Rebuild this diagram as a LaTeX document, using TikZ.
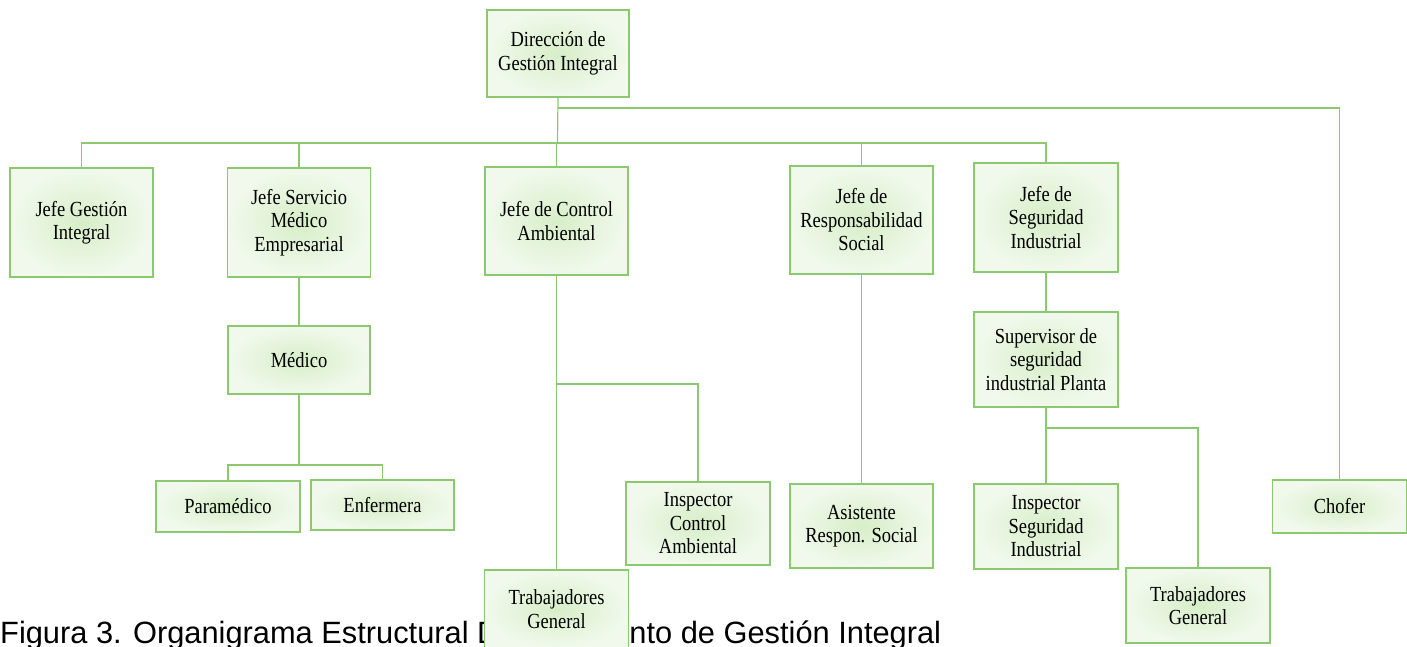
\documentclass[tikz,border=0pt]{standalone}
\usepackage{fontspec}
\setmainfont{Liberation Serif}
\newfontfamily\boxfont[FakeStretch=0.86]{Liberation Serif}
\newfontfamily\capfont{Liberation Sans}
\usetikzlibrary{positioning}
\definecolor{lng}{HTML}{8CC870}
\definecolor{boxin}{HTML}{D7EEC8}
\definecolor{boxout}{HTML}{F1F9EC}
\tikzset{
  box/.style={draw=lng,line width=1.3pt,shading=radial,inner color=boxin,outer color=boxout,
    align=center,inner sep=0pt,minimum width=143pt,minimum height=108pt,
    font=\boxfont\fontsize{21.5}{23.5}\selectfont},
  ln/.style={draw=lng,line width=1.2pt},
}

\begin{document}
\begin{tikzpicture}[x=1pt,y=-1pt]
  \useasboundingbox (0,0) rectangle (1407,646);
  \node[anchor=base west,inner sep=0pt,font=\capfont\fontsize{30.8}{31}\selectfont] (cap) at (0,643)
    {Figura 3. Organigrama Estructural Departamento de Gestión Integral};
  % direccion y jefes
  \node[box,minimum width=142pt,minimum height=87pt] (dir) at (558,53.5) {Dirección de\\Gestión Integral};
  \node[box,minimum height=109pt] (jg) at (81.5,222.5) {Jefe Gestión\\Integral};
  \node[box,minimum height=109pt] (jsm) at (299,222.5) {Jefe Servicio\\Médico\\Empresarial};
  \node[box] (jca) at (556.5,221) {Jefe de Control\\Ambiental};
  \node[box] (jrs) at (861.5,220) {Jefe de\\Responsabilidad\\Social};
  \node[box,minimum width=144pt,minimum height=109pt] (jsi) at (1046,217.5) {Jefe de\\Seguridad\\Industrial};
  % niveles inferiores
  \node[box,minimum width=142pt,minimum height=68pt] (med) at (299,360) {Médico};
  \node[box,minimum width=144pt,minimum height=51pt] (para) at (228,506.5) {Paramédico};
  \node[box,minimum height=50pt] (enf) at (382.5,505) {Enfermera};
  \node[box,minimum width=144pt,minimum height=83pt] (ica) at (698,523.5) {Inspector\\Control\\Ambiental};
  \node[box,minimum width=144pt,minimum height=78pt] (tg1) at (556.5,609) {Trabajadores\\General};
  \node[box,minimum height=84pt] (ars) at (861.5,526) {Asistente\\Respon. Social};
  \node[box,minimum width=144pt,minimum height=95pt] (sup) at (1046,359.5) {Supervisor de\\seguridad\\industrial Planta};
  \node[box,minimum width=144pt,minimum height=85pt] (isi) at (1046,526.5) {Inspector\\Seguridad\\Industrial};
  \node[box,minimum width=144pt,minimum height=75pt] (tg2) at (1198,605.5) {Trabajadores\\General};
  \node[box,minimum width=134pt,minimum height=53pt] (cho) at (1339.5,506.5) {Chofer};
  % conectores
  \coordinate (top) at (557.5,108);
  \coordinate (bus) at (557.5,143);
  \draw[ln] (dir.south) -- (bus);
  \foreach \n in {jg,jsm,jca,jrs,jsi} \draw[ln] (bus) -| (\n.north);
  \draw[ln] (top) -| (cho.north);
  \draw[ln] (jsm) -- (med);
  \coordinate (mb) at (299,465);
  \draw[ln] (med.south) -- (mb);
  \draw[ln] (mb) -| (para.north);
  \draw[ln] (mb) -| (enf.north);
  \draw[ln] (jca) -- (tg1);
  \coordinate (cb) at (556.5,384);
  \draw[ln] (cb) -| (ica.north);
  \draw[ln] (jrs) -- (ars);
  \draw[ln] (jsi) -- (sup);
  \draw[ln] (sup) -- (isi);
  \coordinate (sb) at (1046,428);
  \draw[ln] (sb) -| (tg2.north);
\end{tikzpicture}
\end{document}
